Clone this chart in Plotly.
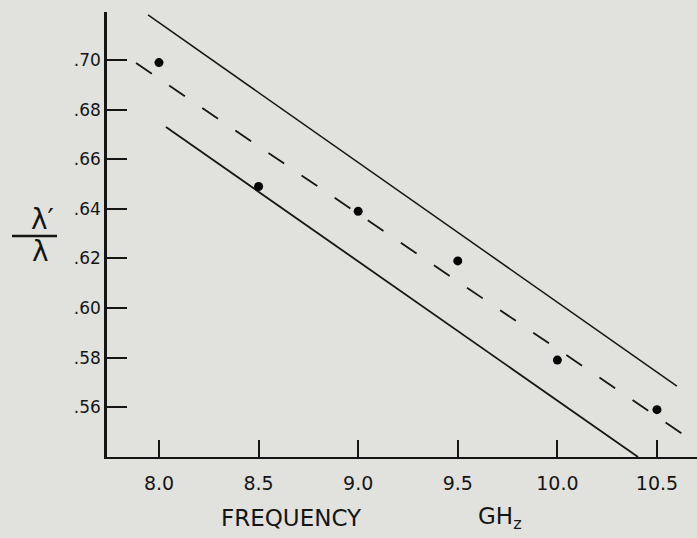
import plotly.graph_objects as go

# ---- data ----
freq = [8.0, 8.5, 9.0, 9.5, 10.0, 10.5]
ratio = [0.699, 0.649, 0.639, 0.619, 0.579, 0.559]

fit_x = [7.885, 10.630]
fit_y = [0.6988, 0.5491]
upper_x = [7.945, 10.600]
upper_y = [0.7182, 0.5685]
lower_x = [8.035, 10.405]
lower_y = [0.6730, 0.5399]

x_ticks = [8.0, 8.5, 9.0, 9.5, 10.0, 10.5]
x_tick_text = ["8.0", "8.5", "9.0", "9.5", "10.0", "10.5"]
y_ticks = [0.56, 0.58, 0.60, 0.62, 0.64, 0.66, 0.68, 0.70]
y_tick_text = [".56", ".58", ".60", ".62", ".64", ".66", ".68", ".70"]

W, H = 697, 538
ML, MR, MT, MB = 107, 0, 12, 81
PW, PH = W - ML - MR, H - MT - MB

def px(xp):
    return (xp - ML) / PW

def py(yp):
    return (H - MB - yp) / PH

INK = "#151515"
BG = "#e1e2dd"
FONT = "DejaVu Sans"

fig = go.Figure()
fig.add_trace(go.Scatter(x=upper_x, y=upper_y, mode="lines",
                         line=dict(color=INK, width=1.5), showlegend=False))
fig.add_trace(go.Scatter(x=lower_x, y=lower_y, mode="lines",
                         line=dict(color=INK, width=1.8), showlegend=False))
fig.add_trace(go.Scatter(x=fit_x, y=fit_y, mode="lines",
                         line=dict(color=INK, width=1.8, dash="19px,21px"),
                         showlegend=False))
fig.add_trace(go.Scatter(x=freq, y=ratio, mode="markers",
                         marker=dict(color="#000", size=9, symbol="circle"),
                         showlegend=False))

fig.update_layout(
    width=W, height=H,
    margin=dict(l=ML, r=MR, t=MT, b=MB, pad=0),
    paper_bgcolor=BG, plot_bgcolor=BG,
    font=dict(family=FONT, color=INK),
    xaxis=dict(range=[7.739, 10.701], tickmode="array", tickvals=x_ticks,
               ticktext=x_tick_text,
               showgrid=False, zeroline=False, showline=True, linecolor=INK,
               linewidth=2, ticks="inside", ticklen=17, tickwidth=2,
               tickcolor=INK, layer="above traces", ticklabelstandoff=8,
               tickfont=dict(size=19, family=FONT, color=INK)),
    yaxis=dict(range=[0.5399, 0.7194], tickmode="array", tickvals=y_ticks,
               ticktext=y_tick_text,
               showgrid=False, zeroline=False, showline=True, linecolor=INK,
               linewidth=2.5, ticks="inside", ticklen=20, tickwidth=2,
               tickcolor=INK, layer="above traces",
               tickfont=dict(size=17, family=FONT, color=INK)),
    shapes=[dict(type="line", xref="paper", yref="paper",
                 x0=px(12), x1=px(57), y0=py(236), y1=py(236),
                 line=dict(color=INK, width=2.5))],
    annotations=[
        dict(text="λ′", x=px(42), y=py(219), xref="paper", yref="paper",
             showarrow=False, xanchor="center", yanchor="middle",
             font=dict(size=28, family=FONT, color=INK)),
        dict(text="λ", x=px(40), y=py(251), xref="paper", yref="paper",
             showarrow=False, xanchor="center", yanchor="middle",
             font=dict(size=28, family=FONT, color=INK)),
        dict(text="FREQUENCY", x=px(291), y=py(518), xref="paper", yref="paper",
             showarrow=False, xanchor="center", yanchor="middle",
             font=dict(size=23, family=FONT, color=INK)),
        dict(text="GH<sub>z</sub>", x=px(500), y=py(518), xref="paper", yref="paper",
             showarrow=False, xanchor="center", yanchor="middle",
             font=dict(size=23, family=FONT, color=INK)),
    ],
)

fig.write_html(
    "out.html",
    config={"displayModeBar": False},
    post_script="document.body.style.margin='0';document.body.style.padding='0';"
                "document.body.style.overflow='hidden';"
                "document.documentElement.style.overflow='hidden';",
)
